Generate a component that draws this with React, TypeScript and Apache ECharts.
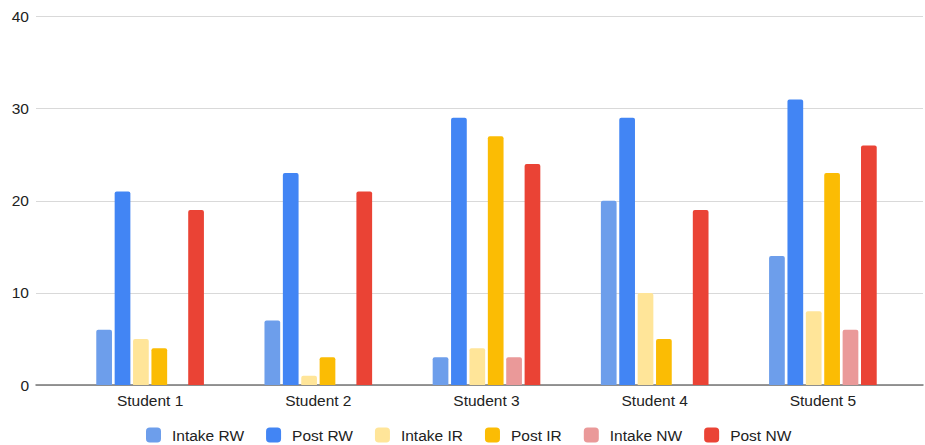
import React, { useEffect, useRef } from "react";
import * as echarts from "echarts";

const categories = ["Student 1", "Student 2", "Student 3", "Student 4", "Student 5"];
const seriesNames = ["Intake RW", "Post RW", "Intake IR", "Post IR", "Intake NW", "Post NW"];
const intakeRW = [6, 7, 3, 20, 14];
const postRW = [21, 23, 29, 29, 31];
const intakeIR = [5, 1, 4, 10, 8];
const postIR = [4, 3, 27, 5, 23];
const intakeNW = [0, 0, 3, 0, 6];
const postNW = [19, 21, 24, 19, 26];
const yTicks = [0, 10, 20, 30, 40];

const colors = ["#6d9eeb", "#4285f4", "#ffe599", "#fbbc04", "#ea9999", "#ea4335"];
const values = [intakeRW, postRW, intakeIR, postIR, intakeNW, postNW];

export default function App() {
  const ref = useRef<HTMLDivElement>(null);
  useEffect(() => {
    document.body.style.margin = "0";
    if (!ref.current) return;
    const chart = echarts.init(ref.current, undefined, { renderer: "svg" });
    const font = "Arial, 'Liberation Sans', sans-serif";
    const fs = 15.5;
    const yMin = yTicks[0];
    const yMax = yTicks[yTicks.length - 1];
    chart.setOption({
      animation: false,
      textStyle: { fontFamily: font },
      grid: [
        { left: 36, right: 2, top: 16.5, bottom: 60 },
        { left: 66, right: 18, top: 16.5, bottom: 60 },
      ],
      legend: {
        top: 427,
        left: 146,
        padding: 0,
        itemWidth: 15,
        itemHeight: 15,
        itemGap: 22,
        icon: "roundRect",
        textStyle: { fontSize: fs, color: "#222", fontFamily: font, padding: [0, 0, 0, 6] },
        data: seriesNames,
      },
      xAxis: [
        {
          type: "category",
          gridIndex: 0,
          data: categories,
          axisTick: { show: false },
          axisLabel: { show: false },
          axisLine: { lineStyle: { color: "#757575", width: 1.5 } },
        },
        {
          type: "category",
          gridIndex: 1,
          data: categories,
          axisTick: { show: false },
          axisLine: { show: false },
          axisLabel: { fontSize: fs, color: "#222", margin: 7, fontFamily: font },
        },
      ],
      yAxis: [
        {
          type: "value",
          gridIndex: 0,
          min: yMin,
          max: yMax,
          interval: 10,
          axisLabel: { fontSize: fs, color: "#222", margin: 7, fontFamily: font },
          splitLine: { lineStyle: { color: "#d9d9d9" } },
          axisLine: { show: false },
          axisTick: { show: false },
        },
        {
          type: "value",
          gridIndex: 1,
          min: yMin,
          max: yMax,
          interval: 10,
          axisLabel: { show: false },
          splitLine: { show: false },
          axisLine: { show: false },
          axisTick: { show: false },
        },
      ],
      series: seriesNames.map((name, i) => ({
        name,
        type: "bar",
        xAxisIndex: 1,
        yAxisIndex: 1,
        data: values[i],
        barGap: "17%",
        barCategoryGap: "36%",
        z: 3,
        itemStyle: { color: colors[i], borderRadius: [2, 2, 0, 0] },
      })),
    });
    return () => chart.dispose();
  }, []);
  return <div ref={ref} style={{ width: 925, height: 445 }} />;
}
